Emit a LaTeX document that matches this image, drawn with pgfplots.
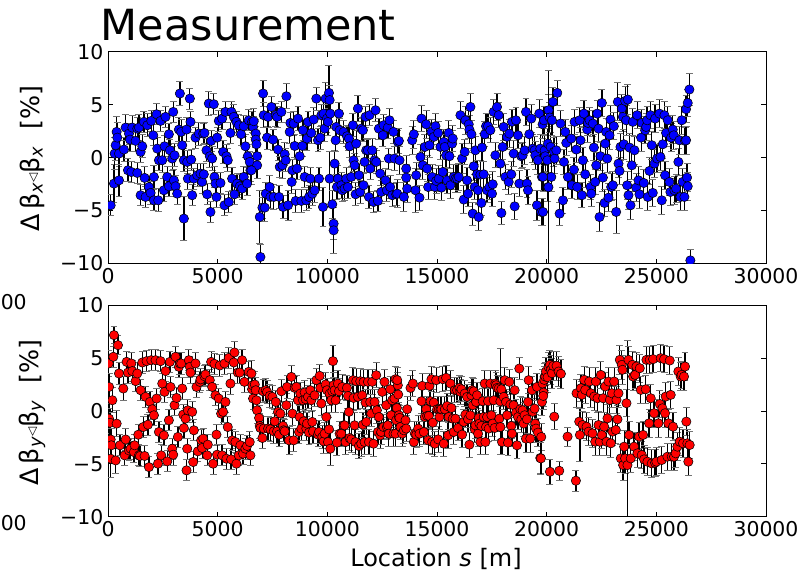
\documentclass[border=0pt]{standalone}
\usepackage{fontspec}
\setmainfont{DejaVu Sans}
\usepackage{pgfplots}
\pgfplotsset{compat=1.18}
\usepackage{pgfplotstable}

\pgfplotstableread{
s v e
121 -4.51 1.0
273 -2.46 1.8
303 0.38 1.5
349 1.17 1.4
394 2.43 1.5
425 1.89 1.4
501 0.38 1.2
501 -2.15 1.5
728 0.76 1.1
804 2.84 1.2
910 -1.20 1.1
956 2.27 1.0
1001 1.70 1.1
1062 -1.36 1.0
1107 2.84 1.1
1259 1.58 1.0
1335 2.74 1.1
1335 -1.45 1.0
1411 2.84 1.2
1487 0.54 1.0
1487 -3.56 1.0
1563 1.07 1.1
1638 3.38 1.0
1669 -1.92 1.1
1714 -3.72 1.0
1790 3.06 1.1
1866 -2.78 1.0
1942 -3.34 1.1
1972 3.47 1.0
2063 2.11 1.0
2094 -1.83 1.1
2094 -4.04 1.0
2215 4.10 1.0
2245 0.85 1.1
2291 -4.04 1.1
2321 -0.25 1.0
2397 3.47 1.0
2473 -0.25 1.2
2549 -3.09 1.1
2579 1.07 1.0
2624 3.85 1.0
2700 -1.83 1.0
2776 2.21 1.0
2776 -2.71 1.0
2822 0.69 1.0
2928 -0.09 1.1
2973 4.32 1.0
3004 -2.15 1.0
3034 0.22 1.1
3080 -2.71 1.0
3155 -3.41 1.0
3277 6.06 1.1
3231 2.65 1.1
3337 2.43 1.2
3383 1.17 1.1
3459 -5.77 2.1
3459 -0.25 1.1
3580 2.65 1.1
3611 -0.41 1.1
3641 -1.99 1.0
3732 5.58 1.0
3762 3.38 1.0
3793 -0.19 1.0
3838 -3.56 1.0
3914 -1.99 1.0
3990 1.89 1.0
4066 -1.67 1.1
4141 2.27 1.1
4217 -1.51 1.0
4293 -2.30 1.1
4339 2.27 1.0
4369 -1.58 1.0
4399 2.33 1.0
4490 0.69 1.1
4521 -3.47 1.0
4597 5.11 1.1
4642 0.13 1.1
4672 -5.14 1.0
4703 1.58 1.0
4748 -0.09 1.1
4824 5.05 1.0
4854 -1.83 1.0
4900 -2.46 1.1
4945 -3.72 1.0
4976 1.89 1.0
5052 3.47 1.0
5128 -2.40 1.0
5203 3.69 1.0
5249 0.54 1.1
5310 -4.51 1.0
5355 4.32 1.0
5401 0.13 1.1
5461 -0.25 1.1
5507 -4.20 1.0
5583 2.33 1.0
5628 4.32 1.0
5659 -1.99 1.1
5734 3.85 1.2
5765 -3.47 1.0
5856 3.38 1.0
5886 -2.46 1.0
5962 3.06 1.0
6007 -2.71 1.1
6068 2.21 1.1
6114 -2.93 1.0
6189 2.97 1.0
6189 -1.83 1.0
6265 1.07 1.1
6341 -2.46 1.1
6371 0.13 1.1
6417 3.53 1.0
6462 -0.41 1.0
6493 -1.20 1.1
6569 3.38 1.0
6614 2.90 1.0
6646 3.44 1.2
6737 2.27 1.3
6737 1.70 1.2
6767 1.26 1.2
6798 0.13 1.2
6798 -0.73 1.2
6540 -1.20 1.3
6919 -5.62 2.5
6949 -9.40 1.2
7071 6.06 1.2
7101 4.01 1.2
7040 -4.73 1.0
7147 -4.73 1.3
7192 -3.41 1.1
7253 1.89 1.1
7298 3.85 1.0
7374 -2.78 1.1
7405 -3.72 1.1
7450 4.79 1.0
7526 1.70 1.0
7556 -3.72 1.2
7647 4.01 1.1
7708 3.85 1.0
7753 0.76 1.0
7799 -3.72 1.1
7829 -0.88 1.0
7905 4.32 1.0
7951 -0.73 1.2
7981 -4.67 1.1
8057 0.32 1.1
8102 -0.25 1.1
8133 5.80 1.2
8209 -4.51 1.4
8284 2.43 1.1
8315 3.28 1.0
8375 -2.30 1.1
8406 -1.20 1.0
8466 3.22 1.1
8512 1.10 1.1
8557 -4.10 1.1
8618 -1.04 1.0
8664 3.69 1.1
8740 0.13 1.2
8815 -4.10 1.1
8861 1.10 1.0
8891 2.59 1.0
8967 -1.83 1.0
9043 -4.04 1.0
9073 1.80 1.1
9119 3.38 1.0
9164 -3.72 1.1
9225 -1.99 1.1
9270 2.33 1.0
9316 -3.41 1.1
9377 3.60 1.1
9422 -3.09 1.2
9498 5.58 1.1
9574 1.64 1.1
9619 -1.99 1.1
9680 1.89 1.1
9726 4.01 1.0
9801 -4.67 1.8
9832 4.16 1.2
9877 2.74 1.2
9923 5.58 1.5
9983 3.69 1.3
10029 3.38 1.3
10074 6.12 2.6
10105 5.44 1.4
10105 -1.99 2.6
10135 4.16 1.4
10226 -4.42 1.3
10287 -6.25 1.5
10287 -6.88 2.2
10332 -0.57 1.2
10378 1.64 1.1
10408 2.90 1.1
10438 -2.78 1.2
10484 -1.99 1.2
10530 4.16 1.1
10560 2.59 1.1
10636 -2.62 1.2
10681 -3.09 1.1
10742 2.43 1.1
10787 -2.93 1.1
10863 -1.99 1.1
10894 2.02 1.0
10939 -2.78 1.1
10985 1.80 1.1
11015 1.07 1.1
11091 -1.83 1.0
11167 3.06 1.1
11197 -0.25 1.1
11243 -0.73 1.1
11288 -3.47 1.1
11318 1.32 1.2
11394 4.64 1.2
11440 -1.67 1.1
11500 -3.25 1.1
11546 2.74 1.1
11622 2.59 1.1
11652 -2.62 1.1
11698 -0.41 1.0
11743 3.85 1.0
11774 0.69 1.1
11849 0.69 1.0
11895 -3.72 1.1
11925 4.01 1.0
11956 -1.04 1.0
12047 0.69 1.1
12107 -4.20 1.0
12153 -0.25 1.1
12198 4.48 1.1
12229 -0.41 1.1
12304 -4.10 1.0
12350 2.74 1.0
12411 -1.51 1.1
12456 -3.25 1.1
12532 2.11 1.1
12562 3.06 1.0
12653 -2.15 1.1
12714 -3.09 1.1
12760 2.84 1.0
12805 -0.09 1.0
12835 3.53 1.1
12866 -2.78 1.1
12957 -3.56 1.1
13017 2.43 1.1
13063 -0.09 1.1
13139 -3.47 1.1
13215 1.48 1.1
13262 1.58 1.2
13292 -0.25 1.3
13186 -3.41 1.3
13489 -3.72 1.4
13595 -1.04 1.2
13595 -1.89 1.2
13641 -2.93 1.3
13869 1.64 1.3
13944 2.21 1.3
14020 -3.09 2.1
14051 -1.67 1.2
14202 -3.79 1.2
14248 0.06 1.2
14293 3.69 1.2
14354 -0.73 1.3
14445 1.01 1.2
14506 3.15 1.3
14551 -1.04 1.2
14597 -2.78 1.2
14657 1.17 1.2
14748 2.43 1.2
14779 -1.83 1.2
14855 1.96 1.2
14900 -2.78 1.2
14930 2.97 1.2
14961 -2.21 1.2
15052 2.33 1.1
15082 -1.99 1.2
15158 1.01 1.2
15203 -2.84 1.2
15264 -1.36 1.2
15310 1.48 1.2
15355 1.01 1.2
15416 0.22 1.2
15461 -2.15 1.2
15537 2.33 1.2
15568 0.13 1.2
15613 -2.62 1.2
15689 1.32 1.2
15719 1.80 1.2
15765 -1.83 1.2
15841 -1.99 1.3
15916 -1.99 1.3
15992 -1.83 1.3
16068 4.01 1.3
16144 -0.09 1.4
16220 -3.97 1.3
16265 0.54 1.2
16296 3.53 1.3
16372 -2.15 1.2
16417 -3.41 1.2
16447 3.15 1.3
16478 2.65 1.3
16523 4.79 1.3
16569 2.21 1.3
16629 -5.30 1.1
16675 -0.82 1.3
16720 -2.78 1.2
16751 0.69 1.3
16827 -1.58 1.3
16872 -3.09 1.3
16903 -5.62 1.3
16978 -1.61 1.3
17024 -4.29 1.2
17054 0.95 1.3
17130 -1.58 1.2
17176 2.21 1.2
17236 2.97 1.2
17282 -3.09 1.2
17327 2.97 1.2
17388 -2.78 1.2
17433 2.59 1.2
17509 -3.41 1.2
17540 -2.52 1.2
17585 4.32 1.2
17661 0.22 1.2
17737 4.79 1.3
17813 4.01 1.2
17889 -0.57 1.2
17934 -5.24 1.1
17995 1.01 1.2
18040 2.90 1.3
18116 -1.83 1.2
18192 1.96 1.2
18268 -2.30 1.2
18298 2.27 1.3
18389 -1.58 1.2
18420 3.38 1.2
18495 0.38 1.2
18541 -4.61 1.2
18601 3.53 1.2
18693 2.11 1.2
18753 -2.46 1.2
18844 0.13 1.2
18905 0.22 1.2
18996 0.69 1.3
19057 4.32 1.3
19102 -2.46 1.3
19148 -3.09 1.3
19208 2.21 1.3
19299 3.69 1.3
19360 0.85 1.3
19451 0.69 1.3
19481 0.22 1.3
19557 -4.51 1.4
19603 -0.25 1.3
19663 4.16 1.3
19709 0.85 1.3
19754 -5.14 1.3
19785 -1.83 1.3
19815 3.15 1.3
19877 3.53 1.3
19908 0.69 1.4
19938 0.13 1.4
20029 -0.25 1.4
20059 1.32 1.4
20090 4.48 1.5
20135 3.79 1.4
20181 1.01 1.4
20241 3.53 1.4
20287 5.27 1.4
20332 0.54 1.4
20363 -0.09 1.4
20484 6.12 1.2
20439 0.69 1.3
20059 -2.78 1.4
20211 -1.83 1.4
19832 -1.83 1.4
19832 -5.14 1.3
20080 -2.80 11.0
20636 3.22 1.2
20590 -5.30 1.1
20742 -4.04 1.2
20788 -0.41 1.2
20848 2.43 1.2
20894 1.39 1.2
20970 -1.83 1.2
21121 1.80 1.2
21152 -2.62 1.2
21243 -1.14 1.2
21273 3.38 1.2
21349 0.76 1.2
21394 -2.78 1.2
21500 3.53 1.2
21546 1.64 1.2
21607 -3.56 1.2
21652 -0.25 1.2
21698 4.16 1.2
21758 -1.58 1.2
21849 2.65 1.2
21880 3.28 1.2
21956 3.53 1.2
22001 -2.78 1.2
22032 -3.41 1.2
22107 3.22 1.2
22153 0.95 1.2
22214 -2.30 1.2
22259 -0.73 1.2
22305 4.16 1.2
22365 2.74 1.2
22411 -5.62 1.4
22456 0.13 1.3
22517 5.17 1.3
22562 -1.89 1.3
22638 -4.29 1.3
22669 1.32 1.3
22714 2.43 1.3
22760 -0.09 1.3
22820 -3.79 1.3
22866 2.11 1.3
22911 3.60 1.3
22942 -2.78 1.3
23018 -2.62 1.3
23063 2.97 1.3
23169 -5.14 2.0
23245 5.27 1.8
23275 -0.57 1.3
23321 -1.26 1.3
23366 1.01 1.3
23427 4.64 1.3
23473 3.85 1.4
23518 1.26 1.4
23579 5.36 1.4
23624 3.53 1.4
23670 -2.62 1.3
23700 5.49 1.4
23731 -3.56 1.3
23776 0.95 1.3
23822 -4.51 1.3
23882 -0.73 1.3
23928 3.38 1.3
24004 0.69 1.3
24079 -2.84 1.3
24125 4.01 1.3
24186 -2.15 1.3
24231 -3.47 1.3
24307 1.89 1.3
24337 3.28 1.3
24428 -2.40 1.3
24489 2.59 1.3
24535 2.90 1.3
24580 3.53 1.3
24610 -3.72 1.3
24686 -1.26 1.3
24732 4.01 1.3
24792 1.17 1.3
24838 -3.34 1.3
24914 -0.57 1.3
24944 3.69 1.3
25035 -0.09 1.3
25141 4.16 1.3
25187 0.06 1.3
25248 -4.04 1.3
25293 1.26 1.3
25369 4.01 1.3
25399 -1.67 1.3
25445 2.33 1.3
25521 3.53 1.3
25596 -2.30 1.3
25642 -3.25 1.3
25672 1.89 1.3
25748 2.65 1.3
25794 2.11 1.3
25824 -3.09 1.3
25900 -2.93 1.3
26006 -0.41 1.3
26051 1.64 1.3
26097 -3.72 1.3
26158 3.53 1.3
26203 -2.30 1.3
26279 -3.72 1.3
26309 1.58 1.3
26355 1.64 1.3
26355 4.58 1.3
26400 -1.89 1.3
26431 5.17 1.3
26431 -2.71 1.3
26507 6.44 1.5
26552 -9.72 1.0
}\topdata

\pgfplotstableread{
s v e
30 4.49 1.2
50 2.27 1.3
46 -0.73 1.4
91 -1.12 1.4
121 -2.70 1.5
152 -3.25 1.6
121 -4.52 1.8
197 1.01 1.2
273 7.17 0.8
243 5.12 1.0
349 -4.68 1.2
394 -1.20 1.2
455 6.22 0.9
501 3.54 1.0
546 -3.25 1.0
698 2.12 1.1
759 -4.20 1.0
804 -2.70 1.0
850 4.64 1.0
910 3.63 1.0
956 -3.73 1.0
1032 -3.57 1.0
1062 4.49 1.0
1107 3.77 1.0
1183 -3.89 1.0
1214 -3.25 1.0
1259 2.82 1.0
1335 3.54 1.0
1381 -2.25 1.0
1411 -4.20 1.0
1456 -4.26 1.0
1487 1.96 1.0
1563 4.58 1.0
1608 -1.52 1.0
1669 -4.26 1.0
1714 1.33 1.0
1760 4.71 1.0
1820 -1.30 1.0
1866 -5.31 1.0
1911 0.85 1.0
1972 4.80 1.0
2018 0.16 1.0
2094 -0.41 1.0
2169 4.80 1.0
2215 1.17 1.0
2276 -4.99 1.0
2321 -1.99 1.0
2397 4.71 1.0
2427 -4.20 1.0
2473 2.59 1.0
2549 -2.31 1.0
2579 1.80 1.0
2624 3.77 1.0
2700 -4.77 1.0
2776 -0.88 1.0
2822 4.64 1.0
2852 2.27 1.0
2928 -3.57 1.0
2973 -4.14 1.0
3034 0.54 1.0
3080 5.12 1.0
3125 1.23 1.0
3186 -2.46 1.0
3231 4.17 1.0
3277 4.49 1.0
3337 4.49 1.0
3383 2.12 1.0
3428 -0.35 1.0
3459 -1.62 1.0
3535 -0.73 1.0
3580 -5.62 1.0
3611 -3.57 1.0
3641 0.06 1.0
3686 4.80 1.0
3732 4.17 1.0
3762 3.63 1.0
3838 -0.09 1.0
3884 -4.83 1.0
3914 -1.83 1.0
3990 4.49 1.0
4035 2.27 1.0
4096 -3.82 1.0
4187 2.75 1.0
4217 2.98 1.0
4248 -2.78 1.0
4293 -3.50 1.0
4339 -2.62 1.0
4399 3.28 1.0
4445 3.44 1.0
4521 -4.20 1.0
4551 -3.19 1.0
4642 2.91 1.0
4703 4.64 1.0
4748 2.27 1.0
4794 -4.99 1.0
4854 4.45 1.0
4900 1.48 1.0
4945 -2.24 1.0
4976 -4.14 1.0
5052 1.17 1.0
5097 4.30 1.0
5158 -0.25 1.0
5203 -4.20 1.0
5249 -0.09 1.0
5310 4.49 1.0
5355 0.85 1.0
5401 -4.52 1.0
5461 -1.52 1.0
5507 5.02 1.0
5583 2.59 1.0
5613 -4.58 1.0
5659 -2.78 1.0
5734 4.58 1.0
5765 5.53 1.0
5810 -2.94 1.0
5856 -4.99 1.0
5916 3.63 1.0
5962 -4.20 1.0
6007 3.63 1.0
6038 -3.25 1.0
6114 4.80 1.0
6159 -4.04 1.0
6220 2.75 1.0
6265 -3.57 1.0
6341 -3.31 1.0
6417 3.70 1.0
6462 -2.94 1.0
6493 -4.20 1.0
6569 2.05 1.0
6614 1.17 1.0
6540 3.54 1.2
6585 2.43 1.2
6692 2.50 1.2
6737 1.96 1.2
6767 1.01 1.2
6798 0.06 1.2
6889 -0.66 1.2
6919 -1.42 1.2
6949 -1.61 1.2
7040 -2.56 1.0
7071 1.86 1.1
7101 -1.67 1.1
7192 1.96 1.1
7253 1.80 1.1
7298 -1.67 1.1
7374 1.42 1.1
7405 -1.74 1.1
7496 1.33 1.1
7556 -1.93 1.1
7602 -0.98 1.1
7647 0.85 1.1
7708 -1.93 1.1
7753 -0.09 1.1
7799 -2.24 1.1
7860 -0.25 1.1
7905 1.86 1.1
7981 -1.42 1.1
8011 -1.83 1.1
8057 -1.93 1.1
8133 0.54 1.1
8163 2.27 1.1
8254 -2.78 1.3
8360 3.22 1.1
8406 -0.25 1.1
8466 -2.78 1.1
8512 2.18 1.1
8588 2.27 1.1
8664 1.01 1.1
8709 -1.99 1.1
8740 -0.57 1.1
8770 1.64 1.1
8815 -1.67 1.1
8891 1.01 1.1
8922 -0.98 1.1
8967 1.74 1.1
9013 1.11 1.1
9043 -1.67 1.1
9073 -1.20 1.1
9119 1.33 1.1
9164 -2.05 1.1
9225 1.96 1.1
9270 1.01 1.1
9316 -1.04 1.1
9346 -1.93 1.1
9422 1.48 1.1
9498 2.91 1.1
9574 -2.24 1.1
9619 -1.99 1.1
9650 3.32 1.1
9680 2.18 1.1
9726 0.70 1.1
9771 -2.46 1.1
9832 -2.88 1.1
9877 -2.15 1.1
9923 2.50 1.1
9953 -0.57 1.1
9983 1.96 1.1
10029 -2.94 1.1
10074 -1.74 1.1
10105 1.64 1.1
10135 -3.57 1.6
10181 1.01 1.2
10226 1.86 1.2
10257 4.71 1.5
10287 2.43 1.2
10332 1.96 1.2
10378 1.01 1.2
10438 -3.00 1.2
10484 2.59 1.2
10530 1.86 1.2
10560 -2.15 1.2
10636 -2.15 1.2
10681 2.27 1.2
10742 -1.36 1.2
10787 -1.36 1.2
10833 -2.94 1.2
10894 2.18 1.2
10939 1.42 1.2
10985 -0.09 1.2
11015 -2.56 1.2
11091 -2.69 1.2
11167 2.91 1.2
11197 1.23 1.2
11243 -1.36 1.2
11288 -2.94 1.2
11318 2.81 1.2
11394 1.33 1.2
11440 -3.32 1.2
11500 2.81 1.2
11546 -3.10 1.2
11591 1.48 1.2
11622 -1.30 1.2
11652 2.75 1.2
11698 -2.94 1.2
11743 0.79 1.2
11774 -1.04 1.2
11849 2.75 1.2
11895 -2.94 1.2
11956 0.85 1.2
12001 -0.25 1.2
12047 2.75 1.2
12107 -3.10 1.2
12153 0.85 1.2
12229 3.38 1.2
12259 0.06 1.2
12304 -1.99 1.2
12350 -0.57 1.2
12411 -2.31 1.2
12456 -1.99 1.2
12502 1.80 1.2
12562 -1.52 1.2
12608 2.75 1.2
12684 0.54 1.2
12714 -1.52 1.2
12760 -1.36 1.2
12805 -2.15 1.2
12866 2.05 1.2
12911 -0.41 1.2
12957 1.01 1.2
13017 -2.15 1.2
13063 1.17 1.2
13108 3.00 1.2
13139 -0.88 1.2
13169 0.28 1.2
13215 2.43 1.2
13260 -0.57 1.2
13110 -2.15 1.2
13186 2.91 1.2
13231 1.55 1.2
13262 -0.41 1.2
13292 -0.66 1.2
13338 -1.52 1.2
13413 -2.15 1.2
13489 -1.83 1.2
13565 -0.88 1.2
13595 -1.67 1.2
13641 0.16 1.2
13793 2.18 1.2
13899 2.59 1.2
13944 -2.94 1.2
13990 -2.15 1.2
14051 -2.24 1.2
14142 -1.67 1.2
14202 -2.15 1.2
14293 0.92 1.2
14324 2.37 1.2
14399 -1.99 1.2
14445 -0.57 1.2
14506 0.16 1.2
14551 -0.47 1.2
14597 -2.78 1.2
14627 -0.47 1.2
14657 2.37 1.2
14703 0.92 1.2
14748 3.00 1.2
14779 -2.94 1.2
14809 -1.11 1.2
14855 0.79 1.2
14900 -3.10 1.2
14961 2.91 1.2
15006 0.16 1.2
15052 -2.69 1.2
15082 0.16 1.2
15112 -0.57 1.2
15158 0.16 1.2
15203 0.16 1.2
15264 3.00 1.2
15310 -3.10 1.2
15355 0.16 1.2
15416 3.13 1.2
15461 0.47 1.2
15507 -2.31 1.2
15537 -0.57 1.2
15613 2.59 1.2
15659 0.28 1.2
15719 -0.73 1.2
15765 -1.99 1.2
15810 1.96 1.2
15841 -0.73 1.2
15916 1.96 1.2
15962 -1.61 1.2
16023 2.18 1.2
16068 1.80 1.2
16114 2.05 1.2
16144 -2.24 1.2
16220 -1.04 1.2
16265 1.64 1.2
16296 -0.35 1.2
16372 1.33 1.2
16417 -0.79 1.2
16478 -3.19 1.2
16523 -0.41 1.2
16569 1.48 1.2
16599 1.96 1.2
16629 0.54 1.2
16675 1.86 1.2
16720 -1.74 1.2
16751 -1.36 1.2
16781 0.85 1.2
16827 1.48 1.2
16872 -2.15 1.2
16903 -0.66 1.2
16933 -1.20 1.2
16978 -2.94 1.2
17024 -1.42 1.2
17085 0.92 1.2
17130 -0.57 1.2
17176 2.59 1.2
17206 -2.94 1.2
17236 -1.52 1.2
17282 -0.57 1.2
17327 0.92 1.2
17358 -1.67 1.2
17433 2.59 1.2
17479 -0.41 1.2
17540 -1.20 1.2
17585 1.01 1.2
17631 -1.61 1.2
17661 2.59 1.2
17691 2.43 1.2
17737 2.18 1.2
17813 2.12 1.2
17843 -0.73 1.2
17889 0.90 5.0
17889 -1.52 1.2
17934 2.05 1.2
17964 -2.94 1.2
18040 1.33 1.2
18086 2.91 1.2
18146 0.85 1.2
18192 -0.41 1.2
18237 -3.00 1.2
18298 2.75 1.2
18344 0.60 1.2
18389 -1.42 1.2
18420 -2.15 1.2
18495 0.54 1.2
18541 1.96 1.2
18602 -0.16 1.2
18647 -3.25 1.2
18693 -0.57 1.2
18753 4.01 1.0
18799 0.16 1.2
18844 -0.79 1.2
18905 0.06 1.2
18950 -1.20 1.2
18996 -0.41 1.2
19057 -2.62 1.3
19102 -0.79 1.3
19148 0.85 1.3
19178 2.91 1.3
19254 -2.62 1.3
19330 1.96 1.3
19360 -0.09 1.3
19451 0.22 1.3
19481 -1.20 1.3
19512 -1.67 1.3
19557 2.27 1.3
19603 -2.05 1.3
19709 -4.45 1.5
19754 -2.46 1.3
19785 0.85 1.3
19815 2.59 1.3
19861 1.74 1.3
19906 3.22 1.3
19845 1.42 1.3
19891 2.94 1.3
19936 3.25 1.3
19967 3.73 1.3
20043 3.19 1.4
20088 4.14 1.4
20149 4.36 1.4
20194 3.89 1.4
20240 3.57 1.4
20301 4.27 1.4
20346 -0.54 1.2
20452 4.27 1.4
20543 3.73 1.4
20649 3.51 1.4
19739 -4.49 1.5
20149 -5.75 1.2
20574 -5.66 0.9
20953 -2.43 0.9
21332 -6.60 1.0
21362 1.67 1.3
21484 -1.01 1.3
21514 -2.27 2.5
21560 2.15 1.3
21605 1.52 1.3
21636 -1.33 1.3
21711 2.94 1.3
21757 1.99 1.3
21818 -1.49 1.3
21909 -1.96 1.3
21939 2.78 1.3
22015 1.67 1.3
22091 -2.12 1.3
22166 1.36 1.3
22212 -2.91 1.3
22242 2.78 1.3
22318 1.20 1.3
22364 -1.33 1.3
22424 -2.91 1.3
22470 3.41 1.3
22515 -2.27 1.3
22576 1.20 1.3
22622 -1.49 1.3
22667 2.31 1.3
22728 -2.91 1.3
22773 -0.70 1.3
22819 2.78 1.3
22880 1.04 1.3
22925 -3.06 1.3
22971 1.67 1.3
23001 -1.96 1.3
23077 2.78 1.3
23153 -1.80 1.3
23183 1.04 1.3
23228 -0.79 1.3
23274 1.67 1.3
23335 4.83 1.4
23380 -4.49 1.3
23426 4.36 1.4
23456 3.89 1.4
23486 -5.12 1.5
23532 -3.38 1.5
23577 -4.49 1.4
23638 0.73 1.3
23683 -5.12 11.8
23729 4.83 1.3
23759 -2.27 1.3
23835 -4.49 1.3
23911 4.36 1.3
23941 3.25 1.3
23987 -3.38 1.3
24032 3.41 1.3
24093 4.20 1.3
24139 -4.01 1.3
24214 -2.43 1.3
24245 4.04 1.3
24290 1.99 1.3
24336 -4.17 1.3
24396 -2.27 1.3
24442 -4.58 1.3
24518 2.05 1.3
24548 4.83 1.3
24594 -4.80 1.3
24670 -1.17 1.3
24700 4.83 1.3
24745 1.20 1.3
24791 -4.96 1.3
24852 4.90 1.3
24897 -0.22 1.3
24943 -4.90 1.3
25003 -4.80 1.3
25094 -1.17 1.3
25155 0.66 1.3
25200 4.99 1.3
25246 -4.64 1.3
25276 0.25 1.3
25352 4.90 1.3
25397 -0.22 1.3
25428 1.36 1.3
25504 -4.33 1.3
25549 -1.17 1.3
25610 4.77 1.3
25655 1.52 1.3
25701 -4.33 1.3
25762 -1.49 1.3
25807 -4.33 1.3
25883 -4.01 1.3
25959 -3.38 1.3
26004 3.73 1.3
26065 -2.91 1.3
26110 3.25 1.3
26156 3.41 1.3
26217 -3.06 1.3
26262 3.25 1.3
26308 4.20 1.3
26368 -1.01 1.3
26414 -3.06 1.3
26459 -4.80 1.3
26520 -3.22 1.3
}\botdata

\pgfplotsset{
  panel/.style={
    scale only axis, width=493.5pt, height=158.6pt, anchor=south west,
    xmin=0, xmax=30000, ymin=-10, ymax=10,
    xtick={0,5000,10000,15000,20000,25000,30000},
    xticklabels={0,5000,10000,15000,20000,25000,30000},
    scaled x ticks=false, scaled y ticks=false,
    ytick={-10,-5,0,5,10},
    yticklabels={−10,−5,0,5,10},
    tick align=inside, tick pos=both,
    major tick length=3.5pt,
    axis line style={line width=0.75pt},
    every tick/.style={black, line width=0.6pt},
    tick label style={font=\fontsize{15.3}{18}\selectfont},
    clip marker paths=true,
  },
  pts/.style={only marks, mark=*, mark size=3.5pt,
    mark options={fill=#1, draw=black, line width=0.4pt},
    error bars/.cd, y dir=both, y explicit,
    error bar style={black, line width=0.95pt},
    error mark options={black!55, rotate=90, line width=0.7pt, mark size=2.6pt}},
}

\begin{document}
\begin{tikzpicture}
\useasboundingbox (0,0) rectangle (602.25pt,-428.25pt);
\begin{axis}[panel, at={(81pt,-197.5pt)}]
\addplot[pts=blue] table[x=s, y=v, y error=e] {\topdata};
\end{axis}
\begin{axis}[panel, at={(81pt,-387.5pt)}]
\addplot[pts=red] table[x=s, y=v, y error=e] {\botdata};
\end{axis}
\node[anchor=base west, inner sep=0pt, font=\fontsize{32.2}{36}\selectfont] at (75.5pt,-30pt) {Measurement};
\node[rotate=90, inner sep=0pt, font=\fontsize{19}{22}\selectfont] at (24pt,-119pt) {Δ\,β\textsubscript{\textit{x}}{\fontsize{9}{9}\selectfont\raisebox{0.35ex}{◁}}β\textsubscript{\textit{x}}\ \ [\%]};
\node[rotate=90, inner sep=0pt, font=\fontsize{19}{22}\selectfont] at (24pt,-309.5pt) {Δ\,β\textsubscript{\textit{y}}{\fontsize{9}{9}\selectfont\raisebox{0.35ex}{◁}}β\textsubscript{\textit{y}}\ \ [\%]};
\node[anchor=base, inner sep=0pt, font=\fontsize{18}{21}\selectfont] at (327pt,-425pt) {Location \textit{s} [m]};
\node[anchor=east, inner sep=0pt, font=\fontsize{15.3}{18}\selectfont] at (20.25pt,-226.5pt) {30000};
\node[anchor=east, inner sep=0pt, font=\fontsize{15.3}{18}\selectfont] at (20.25pt,-392.25pt) {30000};
\end{tikzpicture}
\end{document}
